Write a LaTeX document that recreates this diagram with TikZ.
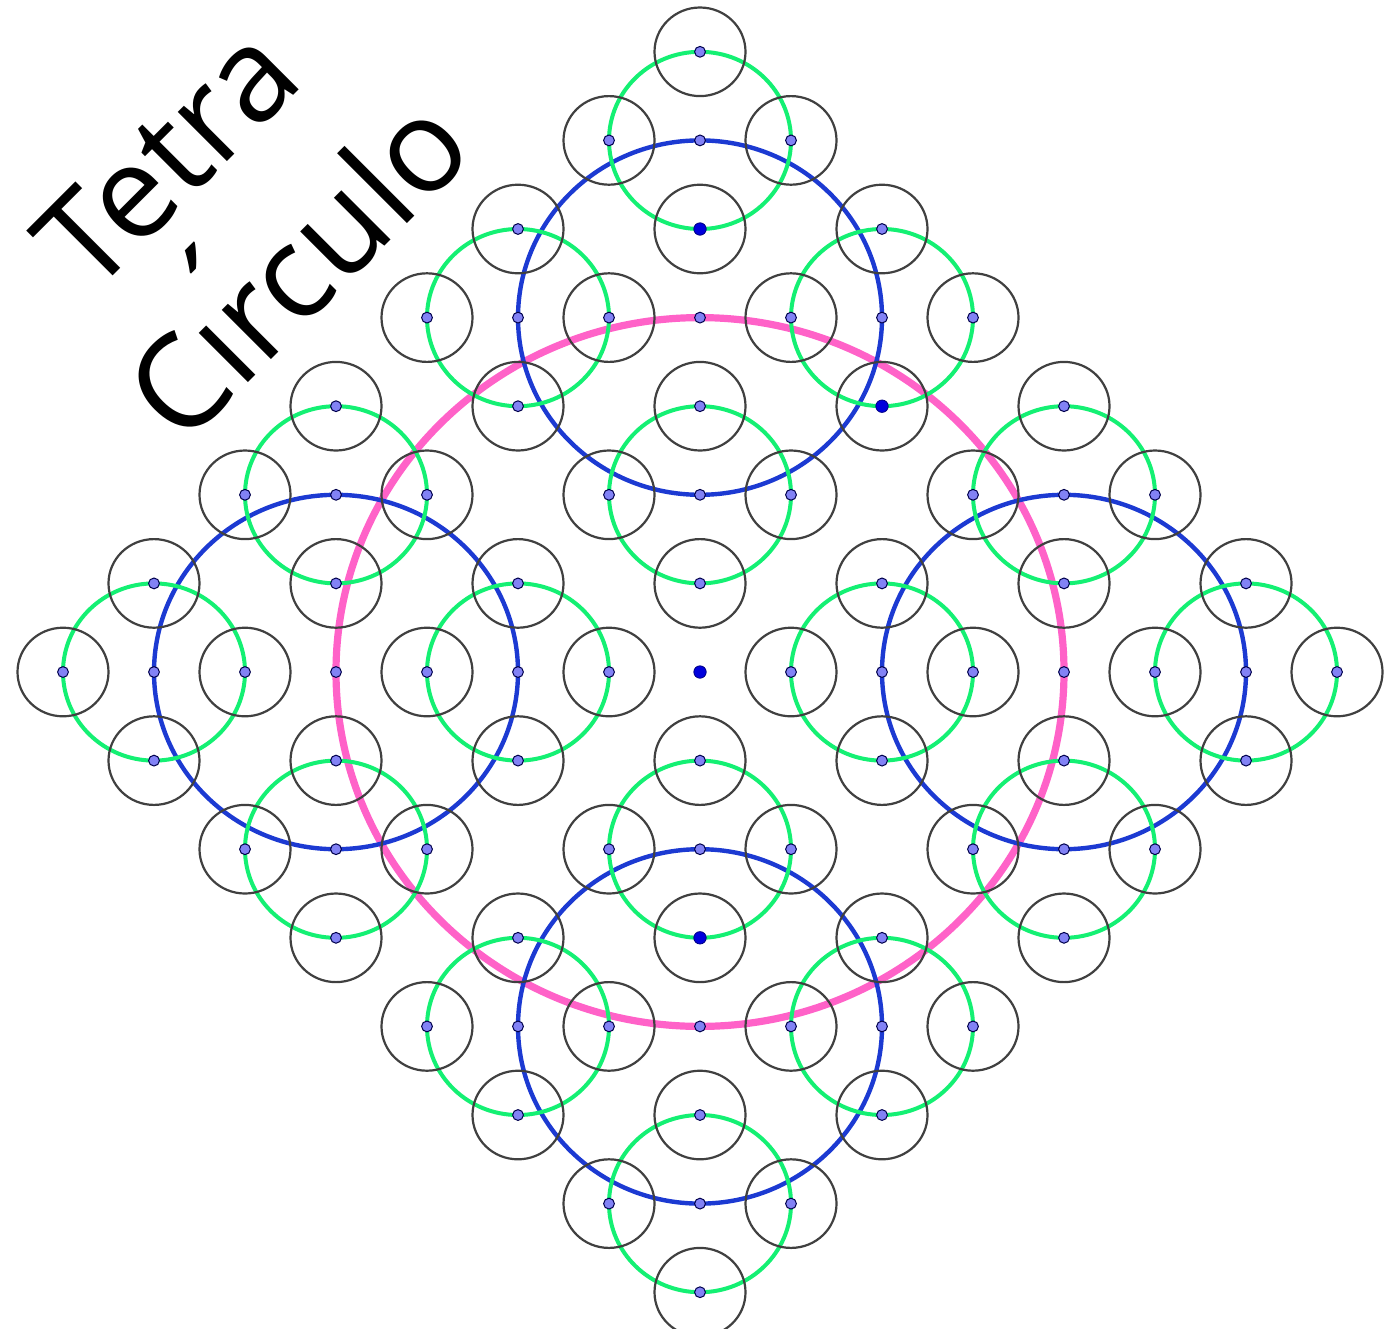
\documentclass[tikz,border=0pt]{standalone}
\usepackage{fontspec}
\setmainfont{Open Sans}
\definecolor{pinkc}{RGB}{255,98,200}
\definecolor{bluec}{RGB}{28,58,210}
\definecolor{greenc}{RGB}{20,240,115}
\definecolor{dotc}{RGB}{130,130,245}
\definecolor{dotdark}{RGB}{0,0,220}
\tikzset{
  kring/.style={draw=black!75, line width=1.1pt},
  gring/.style={draw=greenc, line width=2pt},
  bring/.style={draw=bluec, line width=2.2pt},
  pring/.style={draw=pinkc, line width=3.6pt},
  pdot/.style={fill=dotc, draw=black!70!blue, line width=0.5pt},
  ddot/.style={fill=dotdark, draw=dotdark!60!black, line width=0.4pt},
  title/.style={rotate=45, anchor=base, inner sep=0pt, font=\fontsize{65}{70}\selectfont}
}
\def\RX{22.75pt}
\def\RY{22.15pt}
\begin{document}
\begin{tikzpicture}[x=0.5pt,y=-0.5pt]
\useasboundingbox (0,0) rectangle (1385,1328);
\fill[white] (0,0) rectangle (1385,1328);
\begin{scope}[shift={(700,672)}]
\begin{scope}[x=22.75pt,y=-22.15pt]
% pink ring
\draw[pring] (0,0) ellipse [x radius=8*\RX, y radius=8*\RY];
% blue rings
\foreach \bx/\by in {0/-8,8/0,0/8,-8/0}{
  \draw[bring] (\bx,\by) ellipse [x radius=4*\RX, y radius=4*\RY];
}
% green rings
\foreach \bx/\by in {0/-8,8/0,0/8,-8/0}{
  \foreach \gx/\gy in {0/-4,4/0,0/4,-4/0}{
    \draw[gring] ({\bx+\gx},{\by+\gy}) ellipse [x radius=2*\RX, y radius=2*\RY];
  }
}
% black rings
\foreach \bx/\by in {0/-8,8/0,0/8,-8/0}{
  \foreach \gx/\gy in {0/-4,4/0,0/4,-4/0}{
    \foreach \kx/\ky in {0/-2,2/0,0/2,-2/0}{
      \draw[kring] ({\bx+\gx+\kx},{\by+\gy+\ky}) ellipse [x radius=\RX, y radius=\RY];
    }
  }
}
% dots
\foreach \bx/\by in {0/-8,8/0,0/8,-8/0}{
  \filldraw[pdot] (\bx,\by) circle [radius=2.7pt];
  \foreach \gx/\gy in {0/-4,4/0,0/4,-4/0}{
    \filldraw[pdot] ({\bx+\gx},{\by+\gy}) circle [radius=2.7pt];
    \foreach \kx/\ky in {0/-2,2/0,0/2,-2/0}{
      \filldraw[pdot] ({\bx+\gx+\kx},{\by+\gy+\ky}) circle [radius=2.7pt];
    }
  }
}
\foreach \dx/\dy in {0/0,0/-10,4/-6,0/6}{
  \filldraw[ddot] (\dx,\dy) circle [radius=3.1pt];
}
\end{scope}
\end{scope}
% title
\node[title] (t1) at (199,190) {Tetra};
\node[title] (t2) at (330,301) {C\rlap{\raisebox{0.29em}{\kern0.18em\char"00B4}}ırculo};
\end{tikzpicture}
\end{document}
